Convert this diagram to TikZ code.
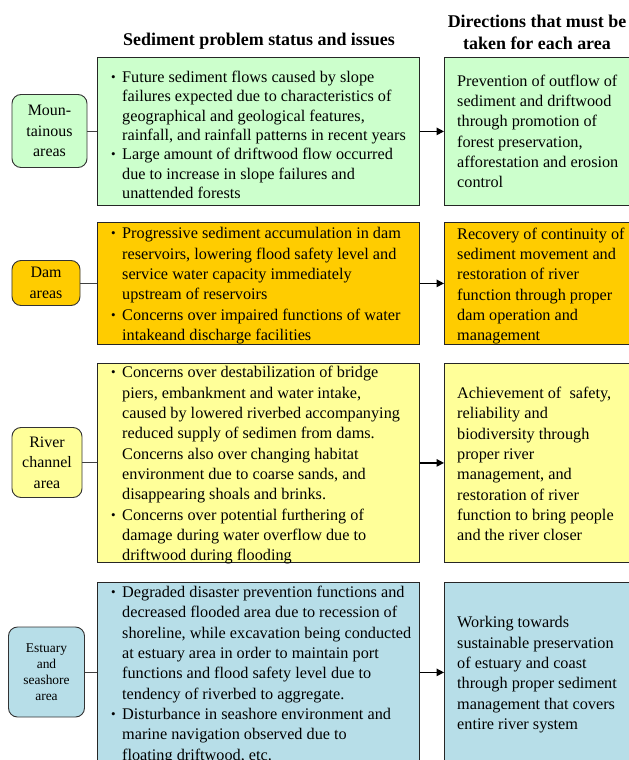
\documentclass[tikz,border=0pt]{standalone}
\usepackage{fontspec}
\usepackage{graphicx}
\setmainfont{Liberation Serif}
\usetikzlibrary{arrows.meta}
\definecolor{cgreen}{HTML}{CCFFCC}
\definecolor{corange}{HTML}{FFCC00}
\definecolor{cyellow}{HTML}{FFFF99}
\definecolor{cblue}{HTML}{B7DEE8}
\newcommand\bl{\makebox[11bp][l]{\raisebox{1bp}{\scalebox{0.8}{\textbullet}}}}
\newcommand\cl{\hspace*{11bp}}
\begin{document}
\begin{tikzpicture}[x=1bp,y=-1bp,
  box/.style={draw=black!85, line width=0.8bp, anchor=north west, inner sep=0pt},
  area/.style={draw=black!80, line width=0.9bp, rounded corners=9bp, inner sep=0pt, align=center, font=\fontsize{16}{20.5}\selectfont},
  txt/.style={inner sep=0pt, align=left, font=\fontsize{16.3}{20.4}\selectfont},
  link/.style={draw=black!75, line width=0.8bp},
  arr/.style={draw=black, line width=1.4bp, -{Triangle[length=7.5bp,width=7.5bp]}},
  hdr/.style={inner sep=0pt, align=center, font=\bfseries\fontsize{18}{22}\selectfont}]
\useasboundingbox (0,0) rectangle (629,760);
\clip (0,0) rectangle (629,760);

% headers
\node[hdr] (h1) at (259,41) {Sediment problem status and issues};
\node[hdr] (h2) at (537,32) {Directions that must be\\taken for each area};

% row 1
\node[box, fill=cgreen, minimum width=322bp, minimum height=148bp] (m1) at (97,57) {};
\node[box, fill=cgreen, minimum width=200bp, minimum height=148bp] (r1) at (444,57) {};
\node[area, fill=cgreen, minimum width=75bp, minimum height=73bp] (a1) at (49.5,131) {Moun-\\tainous\\areas};
\node[txt, anchor=west, yshift=-3.5bp, font=\fontsize{16.3}{19.4}\selectfont] (t1) at ([xshift=14bp]m1.west) {\bl Future sediment flows caused by slope\\
\cl failures expected due to characteristics of\\
\cl geographical and geological features,\\
\cl rainfall, and rainfall patterns in recent years\\
\bl Large amount of driftwood flow occurred\\
\cl due to increase in slope failures and\\
\cl unattended forests};
\node[txt, anchor=west] (u1) at ([xshift=13bp]r1.west) {Prevention of outflow of\\sediment and driftwood\\through promotion of\\forest preservation,\\afforestation and erosion\\control};
\draw[link] (a1.east) -- (a1.east -| m1.west);
\draw[arr] (m1.east) -- (r1.west);

% row 2
\node[box, fill=corange, minimum width=322bp, minimum height=122bp] (m2) at (97,222) {};
\node[box, fill=corange, minimum width=200bp, minimum height=122bp] (r2) at (444,222) {};
\node[area, fill=corange, minimum width=68bp, minimum height=45bp] (a2) at (46,283) {Dam\\areas};
\node[txt, anchor=west, yshift=-2.5bp] (t2) at ([xshift=14bp]m2.west) {\bl Progressive sediment accumulation in dam\\
\cl reservoirs, lowering flood safety level and\\
\cl service water capacity immediately\\
\cl upstream of reservoirs\\
\bl Concerns over impaired functions of water\\
\cl intakeand discharge facilities};
\node[txt, anchor=west, yshift=-2.5bp] (u2) at ([xshift=13bp]r2.west) {Recovery of continuity of\\sediment movement and\\restoration of river\\function through proper\\dam operation and\\management};
\draw[link] (a2.east) -- (a2.east -| m2.west);
\draw[arr] (m2.east) -- (r2.west);

% row 3
\node[box, fill=cyellow, minimum width=322bp, minimum height=199bp] (m3) at (97,363) {};
\node[box, fill=cyellow, minimum width=200bp, minimum height=199bp] (r3) at (444,363) {};
\node[area, fill=cyellow, minimum width=70bp, minimum height=70bp] (a3) at (47,462.5) {River\\channel\\area};
\node[txt, anchor=west, yshift=-2.5bp] (t3) at ([xshift=14bp]m3.west) {\bl Concerns over destabilization of bridge\\
\cl piers, embankment and water intake,\\
\cl caused by lowered riverbed accompanying\\
\cl reduced supply of sedimen from dams.\\
\cl Concerns also over changing habitat\\
\cl environment due to coarse sands, and\\
\cl disappearing shoals and brinks.\\
\bl Concerns over potential furthering of\\
\cl damage during water overflow due to\\
\cl driftwood during flooding};
\node[txt, anchor=west, yshift=-1bp] (u3) at ([xshift=13bp]r3.west) {Achievement of \ safety,\\reliability and\\biodiversity through\\proper river\\management, and\\restoration of river\\function to bring people\\and the river closer};
\draw[link] (a3.east) -- (a3.east -| m3.west);
\draw[arr] (m3.east) -- (r3.west);

% row 4
\node[box, fill=cblue, minimum width=322bp, minimum height=180bp] (m4) at (97,582) {};
\node[box, fill=cblue, minimum width=200bp, minimum height=180bp] (r4) at (444,582) {};
\node[area, fill=cblue, minimum width=76bp, minimum height=90bp, font=\fontsize{13.5}{16.2}\selectfont] (a4) at (46.5,672) {Estuary\\and\\seashore\\area};
\node[txt, anchor=west, yshift=-2.5bp] (t4) at ([xshift=14bp]m4.west) {\bl Degraded disaster prevention functions and\\
\cl decreased flooded area due to recession of\\
\cl shoreline, while excavation being conducted\\
\cl at estuary area in order to maintain port\\
\cl functions and flood safety level due to\\
\cl tendency of riverbed to aggregate.\\
\bl Disturbance in seashore environment and\\
\cl marine navigation observed due to\\
\cl floating driftwood, etc.};
\node[txt, anchor=west, yshift=-2.5bp] (u4) at ([xshift=13bp]r4.west) {Working towards\\sustainable preservation\\of estuary and coast\\through proper sediment\\management that covers\\entire river system};
\draw[link] (a4.east) -- (a4.east -| m4.west);
\draw[arr] (m4.east) -- (r4.west);
\end{tikzpicture}
\end{document}
